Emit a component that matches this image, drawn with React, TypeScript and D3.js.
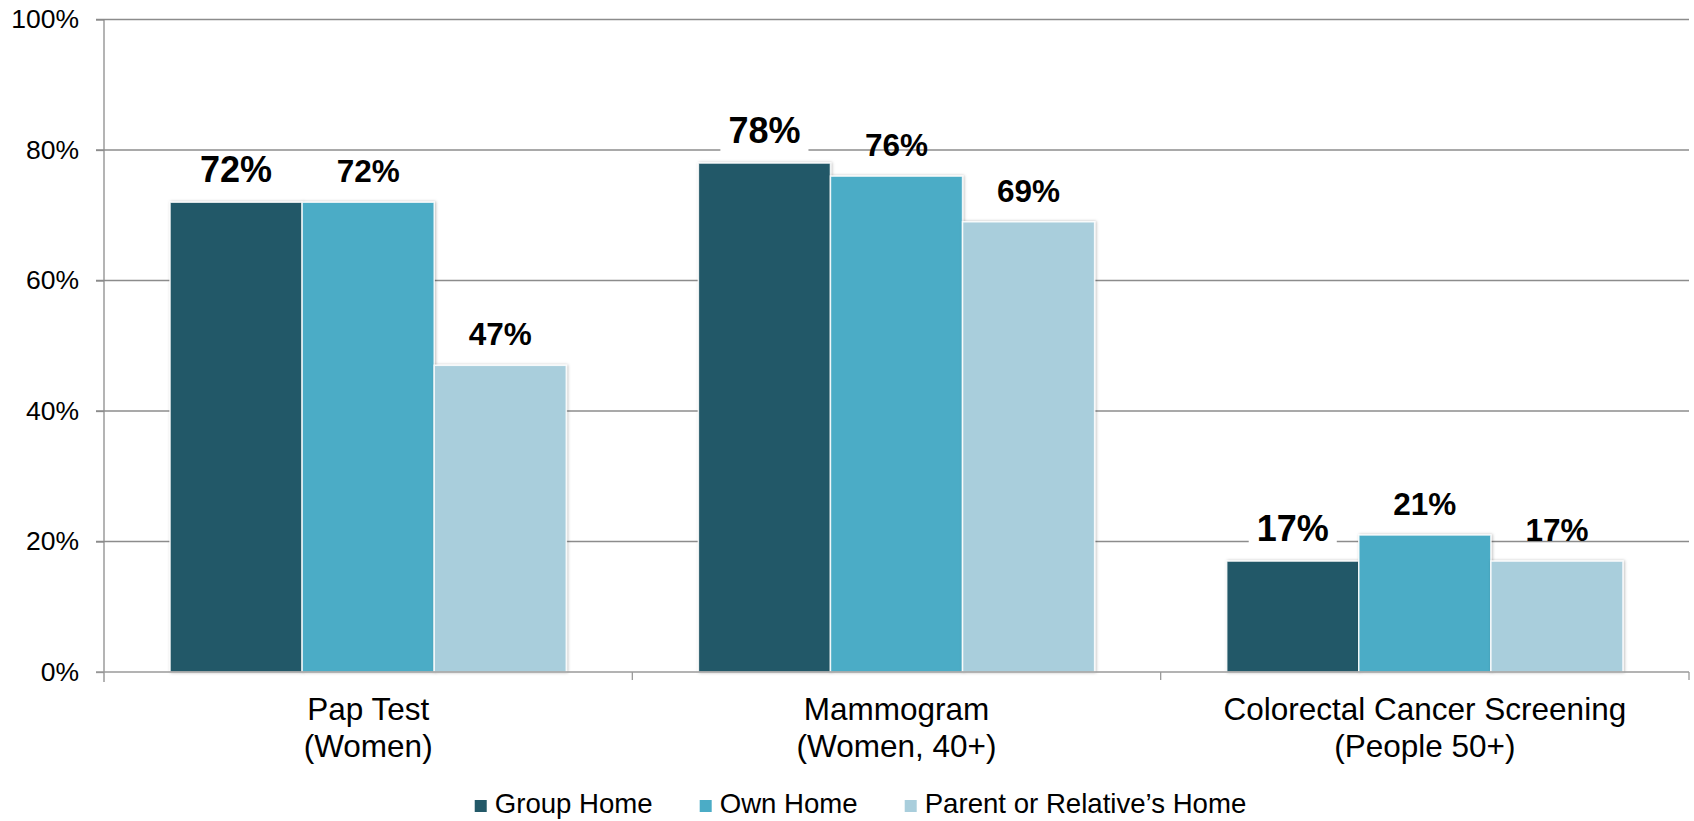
import React, { useEffect, useRef } from 'react';
import * as d3 from 'd3';

const categories = ['Pap Test', 'Mammogram', 'Colorectal Cancer Screening'];
const categoryNotes = ['(Women)', '(Women, 40+)', '(People 50+)'];
const seriesNames = ['Group Home', 'Own Home', 'Parent or Relative’s Home'];
const groupHome = [72, 78, 17];
const ownHome = [72, 76, 21];
const parentHome = [47, 69, 17];
const yTicks = [0, 20, 40, 60, 80, 100];
const colors = ['#235968', '#4bacc6', '#a9cedc'];

const App = () => {
    const chartRef = useRef<SVGSVGElement>(null);

    useEffect(() => {
        const width = 1694;
        const height = 821;
        const margin = { top: 19.5, right: 5, bottom: 149, left: 104 };
        const font = '"Liberation Sans", Arial, sans-serif';
        const values = [groupHome, ownHome, parentHome];

        const svg = d3.select(chartRef.current);
        svg.selectAll('*').remove();

        const x0 = d3.scaleBand().domain(categories).range([margin.left, width - margin.right]);
        const x1 = d3
            .scaleBand()
            .domain(seriesNames)
            .range([0, x0.bandwidth()])
            .paddingInner(0)
            .paddingOuter(0.5);
        const y = d3.scaleLinear().domain([0, 100]).range([height - margin.bottom, margin.top]);

        // soft shadow like the office chart
        const filter = svg
            .append('defs')
            .append('filter')
            .attr('id', 'barShadow')
            .attr('x', '-20%')
            .attr('y', '-5%')
            .attr('width', '140%')
            .attr('height', '110%');
        filter
            .append('feDropShadow')
            .attr('dx', 1)
            .attr('dy', 0)
            .attr('stdDeviation', 1.8)
            .attr('flood-color', '#000')
            .attr('flood-opacity', 0.28);

        // gridlines (with the left tick marks)
        svg
            .append('g')
            .selectAll('line')
            .data(yTicks.filter((t) => t > 0))
            .join('line')
            .attr('x1', margin.left - 8)
            .attr('x2', width - margin.right)
            .attr('y1', (d) => y(d))
            .attr('y2', (d) => y(d))
            .attr('stroke', '#8c8c8c')
            .attr('stroke-width', 1.3);

        // bars
        const groups = svg
            .append('g')
            .selectAll('g')
            .data(seriesNames)
            .join('g')
            .attr('fill', (_, i) => colors[i]);

        groups
            .selectAll('rect')
            .data((_, i) => categories.map((c, j) => ({ c, s: seriesNames[i], v: values[i][j] })))
            .join('rect')
            .attr('x', (d) => (x0(d.c) as number) + (x1(d.s) as number))
            .attr('y', (d) => y(d.v))
            .attr('width', x1.bandwidth())
            .attr('height', (d) => y(0) - y(d.v))
            .attr('stroke', '#ffffff')
            .attr('stroke-opacity', 0.85)
            .attr('stroke-width', 1.5)
            .attr('filter', 'url(#barShadow)');

        // y axis
        const yAxis = svg
            .append('g')
            .attr('transform', `translate(${margin.left},0)`)
            .call(
                d3
                    .axisLeft(y)
                    .tickValues(yTicks)
                    .tickSize(8)
                    .tickPadding(17)
                    .tickFormat((d) => `${d}%`)
            );
        yAxis.select('.domain').remove();
        yAxis.selectAll('line').attr('stroke', '#8c8c8c').attr('stroke-width', 1.3);
        yAxis
            .selectAll('text')
            .attr('font-family', font)
            .attr('font-size', 26.5)
            .attr('fill', '#000');
        svg
            .append('line')
            .attr('x1', margin.left)
            .attr('x2', margin.left)
            .attr('y1', y(100))
            .attr('y2', y(0) + 10)
            .attr('stroke', '#8c8c8c')
            .attr('stroke-width', 1.3);

        // x axis line and boundary ticks
        svg
            .append('line')
            .attr('x1', margin.left - 8)
            .attr('x2', width - margin.right)
            .attr('y1', y(0))
            .attr('y2', y(0))
            .attr('stroke', '#9a9a9a')
            .attr('stroke-width', 1.6);
        const bounds = categories.map((c) => x0(c) as number).concat([x0.range()[1]]);
        svg
            .append('g')
            .selectAll('line')
            .data(bounds.slice(1))
            .join('line')
            .attr('x1', (d) => d)
            .attr('x2', (d) => d)
            .attr('y1', y(0))
            .attr('y2', y(0) + 8)
            .attr('stroke', '#9a9a9a')
            .attr('stroke-width', 1.3);

        // data labels
        const labels = svg.append('g').attr('font-family', font).attr('font-weight', 'bold');
        values.forEach((vals, i) => {
            vals.forEach((v, j) => {
                const cx = (x0(categories[j]) as number) + (x1(seriesNames[i]) as number) + x1.bandwidth() / 2;
                const by = y(v) - 20;
                const size = i === 0 ? 36 : 31.5;
                const bg = labels.append('rect').attr('fill', '#fff');
                const t = labels
                    .append('text')
                    .attr('x', cx)
                    .attr('y', by)
                    .attr('text-anchor', 'middle')
                    .attr('font-size', size)
                    .attr('fill', '#000')
                    .text(`${v}%`);
                if (i === 0) {
                    const w = (t.node() as SVGTextElement).getComputedTextLength();
                    bg.attr('x', cx - w / 2 - 8)
                        .attr('y', by - 31)
                        .attr('width', w + 16)
                        .attr('height', 41);
                } else {
                    bg.remove();
                }
            });
        });

        // category labels
        const cats = svg
            .append('g')
            .attr('font-family', font)
            .attr('font-size', 31.5)
            .attr('text-anchor', 'middle')
            .attr('fill', '#000');
        categories.forEach((c, j) => {
            const cx = (x0(c) as number) + x0.bandwidth() / 2;
            cats.append('text').attr('x', cx).attr('y', y(0) + 48).text(c);
            cats.append('text').attr('x', cx).attr('y', y(0) + 85).text(categoryNotes[j]);
        });

        // legend
        const legend = svg.append('g').attr('font-family', font).attr('font-size', 27.6);
        let cursor = 0;
        seriesNames.forEach((name, i) => {
            const item = legend.append('g').attr('transform', `translate(${cursor},0)`);
            item.append('rect').attr('x', 0).attr('y', 800).attr('width', 12).attr('height', 12).attr('fill', colors[i]);
            const t = item.append('text').attr('x', 20).attr('y', 813).attr('fill', '#000').text(name);
            const w = (t.node() as SVGTextElement).getComputedTextLength();
            cursor += 20 + w + (i < seriesNames.length - 1 ? 47 : 0);
        });
        legend.attr('transform', `translate(${860.5 - cursor / 2},0)`);
    }, []);

    return (
        <svg
            ref={chartRef}
            width={1694}
            height={821}
            style={{ position: 'absolute', left: 0, top: 0, background: '#fff' }}
        />
    );
};

export default App;
